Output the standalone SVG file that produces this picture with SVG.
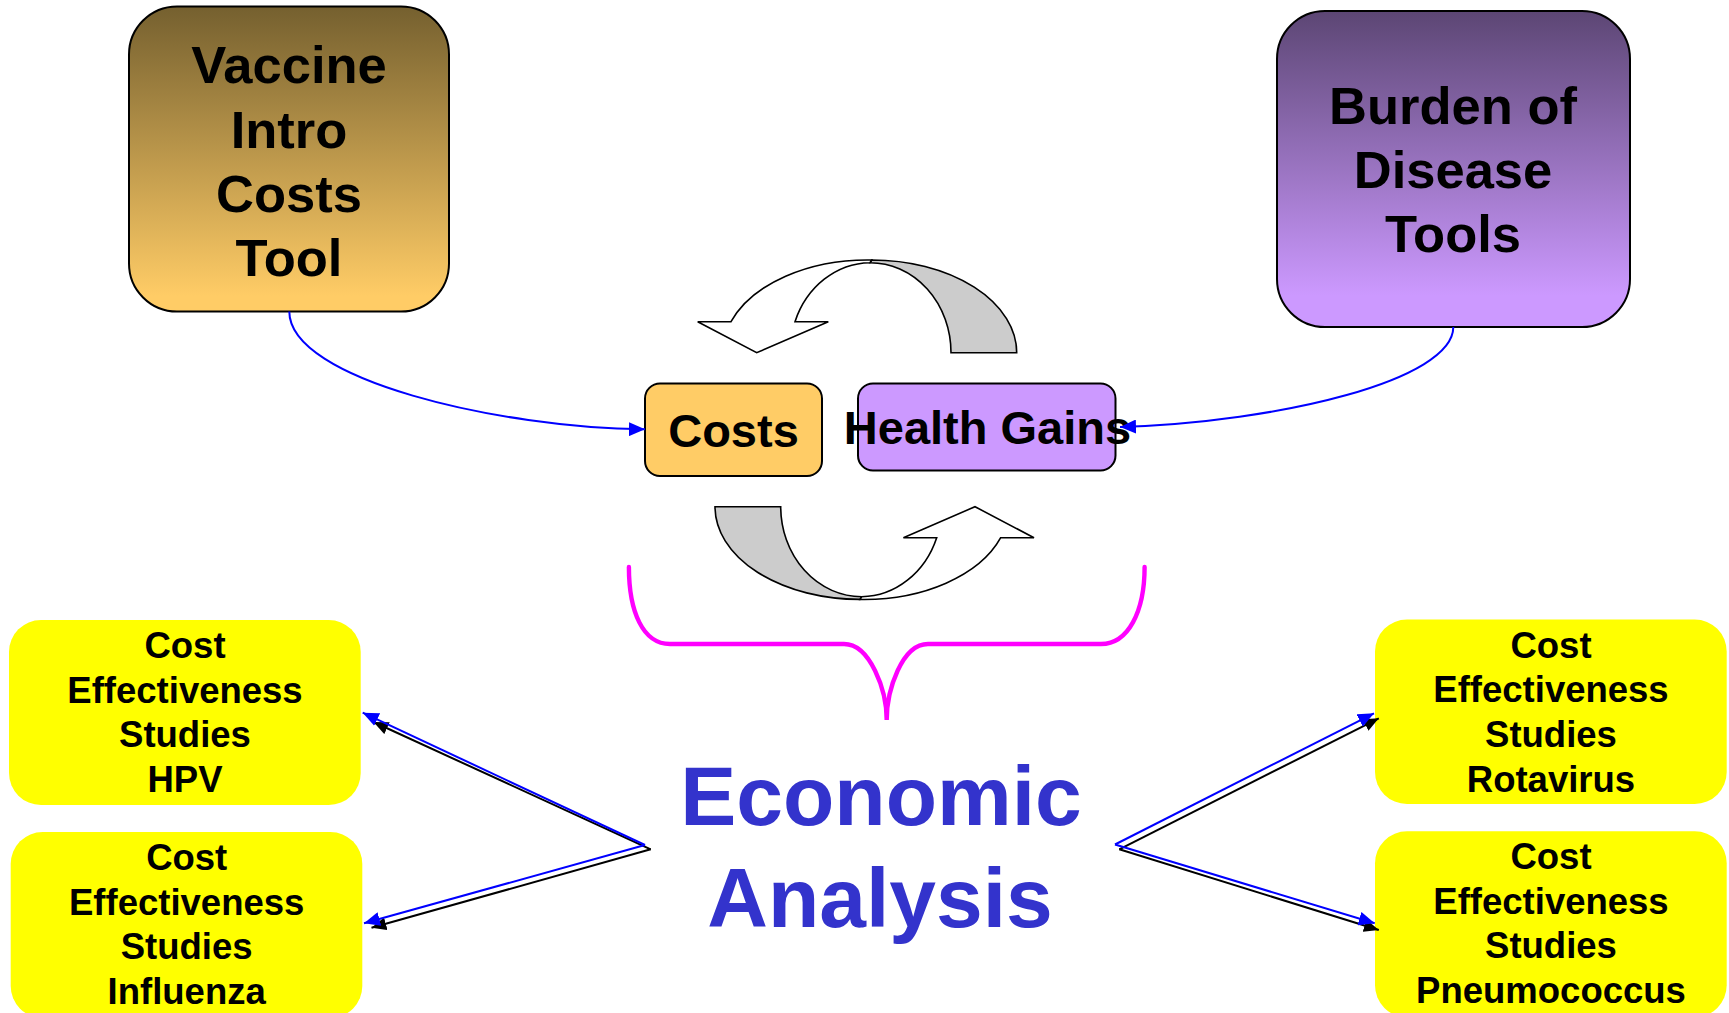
<svg xmlns="http://www.w3.org/2000/svg" width="1729" height="1013" viewBox="0 0 1729 1013">
<style>
  .t { font-family: "Liberation Sans", Arial, sans-serif; font-weight: bold; text-anchor: middle; fill: #000; }
  .big { font-size: 52.5px; }
  .mid { font-size: 47px; }
  .small { font-size: 36.5px; }
  .econ { font-size: 84px; fill: #3333CC; }
  .box { stroke: #000; stroke-width: 2; }
  .yel { fill: #FFFF00; }
  .cyc { stroke: #000; stroke-width: 1.6; stroke-linejoin: miter; }
  .blue { fill: none; stroke: #0000FF; stroke-width: 2; }
  .black { fill: none; stroke: #000; stroke-width: 2; }
</style>
<defs>
  <linearGradient id="gVac" x1="0" y1="0" x2="0" y2="1">
    <stop offset="0" stop-color="#75602F"/>
    <stop offset="0.95" stop-color="#FFCC66"/>
  </linearGradient>
  <linearGradient id="gBur" x1="0" y1="0" x2="0" y2="1">
    <stop offset="0" stop-color="#5C4674"/>
    <stop offset="0.9" stop-color="#CC99FF"/>
  </linearGradient>
  <marker id="aBlue" viewBox="0 0 16 14" refX="16" refY="7" markerWidth="16" markerHeight="14" markerUnits="userSpaceOnUse" orient="auto">
    <path d="M0,0 L16,7 L0,14 Z" fill="#0000FF"/>
  </marker>
  <marker id="aBlack" viewBox="0 0 16 14" refX="16" refY="7" markerWidth="15" markerHeight="13" markerUnits="userSpaceOnUse" orient="auto">
    <path d="M0,0 L16,7 L0,14 Z" fill="#000"/>
  </marker>
  <g id="cycArrow">
    <path class="cyc" fill="#CCCCCC" d="M1016.7,352.7 A145 92.7 0 0 0 871.7,260 L870,262.7 A81 90 0 0 1 951,352.7 Z"/>
    <path class="cyc" fill="#FFFFFF" d="M731,321.7 A145 92.7 0 0 1 871.7,260 L870,262.7 A81 90 0 0 0 795,321.7 L828.3,321.7 L756.7,352.7 L697.7,321.7 Z"/>
  </g>
</defs>

<rect width="1729" height="1013" fill="#FFFFFF"/>

<g id="cycle-top">
  <use href="#cycArrow"/>
</g>
<g id="cycle-bottom">
  <use href="#cycArrow" transform="rotate(180 865.85 429.7)"/>
</g>

<g id="node-vaccine">
  <rect class="box" x="129" y="6.5" width="320" height="305" rx="48" fill="url(#gVac)"/>
  <text class="t big" x="289" y="83">Vaccine</text>
  <text class="t big" x="289" y="148">Intro</text>
  <text class="t big" x="289" y="212">Costs</text>
  <text class="t big" x="289" y="276">Tool</text>
</g>

<g id="node-burden">
  <rect class="box" x="1277" y="11" width="353" height="316" rx="48" fill="url(#gBur)"/>
  <text class="t big" x="1453" y="124">Burden of</text>
  <text class="t big" x="1453" y="188">Disease</text>
  <text class="t big" x="1453" y="252">Tools</text>
</g>

<g id="node-costs">
  <rect class="box" x="645" y="383.5" width="177" height="92.5" rx="15" fill="#FFCC66"/>
  <text class="t mid" x="733.5" y="447">Costs</text>
</g>

<g id="node-health">
  <rect class="box" x="858" y="383.5" width="257.5" height="87" rx="15" fill="#CC99FF"/>
  <text class="t mid" x="987.5" y="444">Health Gains</text>
</g>

<g id="brace">
  <path fill="none" stroke="#FF00FF" stroke-width="4.4" stroke-linecap="round" d="M628.9,567 C628.9,612 643,644 670,644 L844,644 C870,644 886.7,690 886.7,720 C886.7,690 902,644 928,644 L1101,644 C1128,644 1144.6,612 1144.6,567"/>
</g>

<g id="node-economic">
  <text class="t econ" x="881" y="825">Economic</text>
  <text class="t econ" x="880" y="926.5">Analysis</text>
</g>

<g id="node-hpv">
  <rect class="yel" x="9" y="620" width="351.7" height="185" rx="32"/>
  <text class="t small" x="185" y="658.3">Cost</text>
  <text class="t small" x="185" y="702.7">Effectiveness</text>
  <text class="t small" x="185" y="747.3">Studies</text>
  <text class="t small" x="185" y="791.7">HPV</text>
</g>

<g id="node-influenza">
  <rect class="yel" x="10.7" y="832" width="351.6" height="186" rx="32"/>
  <text class="t small" x="186.7" y="870">Cost</text>
  <text class="t small" x="186.7" y="915">Effectiveness</text>
  <text class="t small" x="186.7" y="959.3">Studies</text>
  <text class="t small" x="186.7" y="1004.3">Influenza</text>
</g>

<g id="node-rotavirus">
  <rect class="yel" x="1375" y="619.5" width="351.7" height="184.5" rx="32"/>
  <text class="t small" x="1551" y="658.3">Cost</text>
  <text class="t small" x="1551" y="701.7">Effectiveness</text>
  <text class="t small" x="1551" y="746.7">Studies</text>
  <text class="t small" x="1551" y="791.7">Rotavirus</text>
</g>

<g id="node-pneumococcus">
  <rect class="yel" x="1375" y="831.3" width="351.7" height="186" rx="32"/>
  <text class="t small" x="1551" y="869.3">Cost</text>
  <text class="t small" x="1551" y="913.5">Effectiveness</text>
  <text class="t small" x="1551" y="958.3">Studies</text>
  <text class="t small" x="1551" y="1002.7">Pneumococcus</text>
</g>

<g id="connectors">
  <path class="blue" marker-end="url(#aBlue)" d="M289.3,311.5 C289.3,380 500,428 645,429.3"/>
  <path class="blue" marker-end="url(#aBlue)" d="M1453.3,327 C1453.3,380 1280,422 1120,427"/>
  <path class="black" marker-end="url(#aBlack)" d="M650.7,849.3 L373.5,722"/>
  <path class="black" marker-end="url(#aBlack)" d="M650.7,849.3 L371.5,927.8"/>
  <path class="blue" marker-end="url(#aBlue)" d="M645,845 L362.7,712.7"/>
  <path class="blue" marker-end="url(#aBlue)" d="M645,845 L364,923.3"/>
  <path class="black" marker-end="url(#aBlack)" d="M1119.3,849.3 L1378.8,718.3"/>
  <path class="black" marker-end="url(#aBlack)" d="M1119.3,849.3 L1378.8,930"/>
  <path class="blue" marker-end="url(#aBlue)" d="M1115,844.5 L1374,713.3"/>
  <path class="blue" marker-end="url(#aBlue)" d="M1115,844.5 L1374.7,923.3"/>
</g>
</svg>
